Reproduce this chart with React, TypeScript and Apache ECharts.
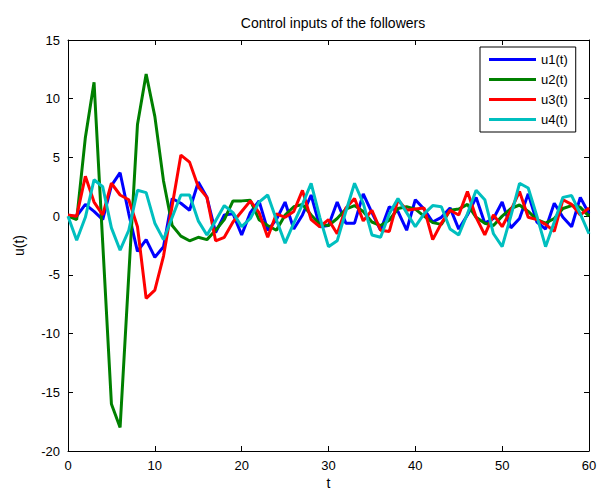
import React, { useEffect, useRef } from "react";
import * as echarts from "echarts";

// Sample instants t = 0..60 (step 1)
const u1 = [0, 0, 1.0, 0.4, -0.3, 2.6, 3.7, 0.2, -3.0, -2.0, -3.5, -2.6, 1.5, 1.1, 0.5, 2.9, 1.6, -1.4, 0.1, 0.2, -1.6, 0.3, 1.3, -1.2, -0.3, 1.2, -1.1, 0.1, 1.8, -0.9, -0.8, 1.2, -0.6, -0.6, 1.9, 0.3, -1.2, 0.8, 0.4, -1.2, 1.4, 0.6, -0.5, -0.1, 0.7, -1.1, 0.1, 1.6, -0.6, -0.2, 1.2, -1.0, -0.2, 1.9, -0.5, -1.1, 1.1, -0.1, -0.9, 1.6, 0.2];
const u2 = [0, -0.3, 6.7, 11.4, -2.3, -16.0, -18.0, -5.0, 7.8, 12.1, 8.5, 3.0, -0.8, -1.7, -2.1, -1.8, -2.0, -1.2, -0.3, 1.3, 1.3, 1.35, -0.3, -0.8, -1.2, 0.1, 0.8, 1.0, 0.1, -0.7, -0.8, -0.2, 0.6, 0.9, 0.4, -0.5, -0.8, -0.35, 0.65, 0.8, 0.6, 0.0, -0.55, -0.7, 0.5, 0.6, 1.0, -0.1, -0.6, -0.8, 0.0, 0.65, 0.95, 0.4, -0.3, -0.6, -0.2, 0.65, 0.9, 0.75, 0.0];
const u3 = [0.1, 0, 3.4, 1.2, 0.1, 2.8, 1.8, 1.4, -0.9, -7.0, -6.3, -3.4, 0.9, 5.2, 4.6, 2.5, 1.6, -2.1, -1.8, -0.5, 0.4, 1.3, 0.3, -1.8, 0.2, -0.1, 0.4, 2.2, -0.3, -0.9, -0.3, -1.5, 0.7, 1.5, -0.4, 0.5, -1.2, -1.3, 1.4, 0.5, 0.6, 0.7, -2.0, -0.6, 0.5, 0.1, 2.1, -0.1, -1.6, 0.1, -0.9, 0.5, 2.1, -0.1, -0.3, -0.7, -1.3, 1.4, 1.0, 0.1, 0.7];
const u4 = [0, -2.05, -0.1, 3.1, 2.5, -1.0, -2.9, -1.2, 2.2, 2.0, -0.6, -2.0, -0.1, 1.8, 1.8, -0.4, -1.6, -0.4, 0.9, 0.3, -0.9, -0.2, 1.2, 1.8, -0.3, -2.3, -0.6, 1.0, 2.8, -0.1, -2.6, -2.1, 0.4, 2.8, 1.1, -1.6, -1.8, 0.2, 1.5, 0.3, -0.9, 0.2, 0.9, 0.8, -1.1, -1.6, 0.2, 2.2, 1.4, -1.5, -2.6, 0.0, 2.8, 2.4, 0.0, -2.6, -0.5, 1.6, 1.75, 0.2, -1.5];

const seriesNames = ["u1(t)", "u2(t)", "u3(t)", "u4(t)"];
const seriesColors = ["#0000ff", "#008000", "#ff0000", "#00bfbf"];
const seriesValues = [u1, u2, u3, u4];

const xMin = 0, xMax = 60, xStep = 10;
const yMin = -20, yMax = 15, yStep = 5;

const FONT = "'Liberation Sans', Arial, Helvetica, sans-serif";

export default function App() {
  const ref = useRef<HTMLDivElement>(null);
  useEffect(() => {
    if (!ref.current) return;
    const chart = echarts.init(ref.current, null, { renderer: "svg" });
    const axisCommon = {
      type: "value" as const,
      axisLine: { show: true, onZero: false, lineStyle: { color: "#000", width: 1 } },
      axisTick: { show: true, inside: true, length: 5, lineStyle: { color: "#000" } },
      splitLine: { show: false },
    };
    chart.setOption({
      animation: false,
      backgroundColor: "#fff",
      title: {
        text: "Control inputs of the followers",
        left: 328,
        textAlign: "center",
        top: 11,
        textStyle: { fontFamily: FONT, fontSize: 14, fontWeight: "normal", color: "#000" },
      },
      grid: { left: 68, right: 9, top: 40, bottom: 38, outerBoundsMode: "none", containLabel: false },
      legend: {
        orient: "vertical",
        left: 480,
        top: 47,
        width: 100,
        padding: [6, 8, 6, 9],
        itemGap: 7,
        itemWidth: 47,
        itemHeight: 3,
        icon: "rect",
        borderColor: "#000",
        borderWidth: 1,
        backgroundColor: "#fff",
        textStyle: { fontFamily: FONT, fontSize: 13, color: "#000" },
        data: seriesNames,
      },
      xAxis: [
        {
          ...axisCommon,
          min: xMin, max: xMax, interval: xStep,
          position: "bottom",
          name: "t",
          nameLocation: "middle",
          nameGap: 32,
          nameMoveOverlap: false,
          nameTextStyle: { fontFamily: FONT, fontSize: 14, lineHeight: 12, color: "#000", verticalAlign: "middle" },
          axisLabel: { fontFamily: FONT, fontSize: 13, color: "#000", margin: 8 },
        },
        {
          ...axisCommon,
          min: xMin, max: xMax, interval: xStep,
          position: "top",
          axisLabel: { show: false },
        },
      ],
      yAxis: [
        {
          ...axisCommon,
          min: yMin, max: yMax, interval: yStep,
          position: "left",
          name: "u(t)",
          nameLocation: "middle",
          nameGap: 42,
          nameMoveOverlap: false,
          nameTextStyle: { fontFamily: FONT, fontSize: 14, color: "#000" },
          axisLabel: { fontFamily: FONT, fontSize: 13, color: "#000", margin: 8 },
        },
        {
          ...axisCommon,
          min: yMin, max: yMax, interval: yStep,
          position: "right",
          axisLabel: { show: false },
        },
      ],
      series: seriesValues.map((vals, k) => ({
        name: seriesNames[k],
        type: "line",
        xAxisIndex: 0,
        yAxisIndex: 0,
        data: vals.map((v, i) => [i, v]),
        showSymbol: false,
        symbol: "none",
        lineStyle: { color: seriesColors[k], width: 3 },
        itemStyle: { color: seriesColors[k] },
        z: 2 + k,
      })),
    });
    return () => chart.dispose();
  }, []);
  return (
    <div
      ref={ref}
      style={{ position: "fixed", left: 0, top: 0, width: 598, height: 489, background: "#fff" }}
    />
  );
}
